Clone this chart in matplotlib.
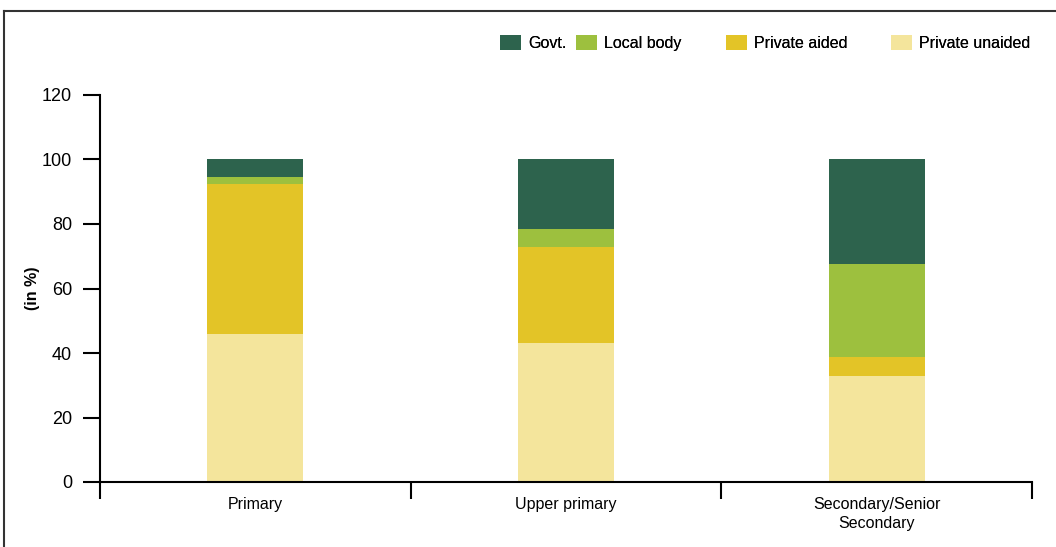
import matplotlib.pyplot as plt
from matplotlib.lines import Line2D
import numpy as np

plt.rcParams['font.family'] = ['Liberation Sans Narrow', 'Liberation Sans', 'DejaVu Sans']

categories = ["Primary", "Upper primary", "Secondary/Senior\nSecondary"]
series = ["Private unaided", "Private aided", "Local body", "Govt."]
private_unaided = [45.9, 43.1, 32.9]
private_aided = [46.6, 29.8, 5.9]
local_body = [2.1, 5.5, 28.8]
govt = [5.4, 21.6, 32.4]
colors = {"Govt.": "#2d634d", "Local body": "#9dc03e",
          "Private aided": "#e3c427", "Private unaided": "#f4e59c"}

values = {"Private unaided": private_unaided, "Private aided": private_aided,
          "Local body": local_body, "Govt.": govt}

fig = plt.figure(figsize=(10.56, 5.47), dpi=100)
ax = fig.add_axes([100/1056, 65/547, 932/1056, 387/547])

x = np.arange(len(categories))
bottom = np.zeros(len(categories))
bars = {}
for name in series:
    bars[name] = ax.bar(x, values[name], width=0.31, bottom=bottom,
                        color=colors[name], label=name, zorder=2)
    bottom += np.array(values[name])

ax.set_xlim(-0.5, 2.5)
ax.set_ylim(0, 120)
ax.set_yticks(range(0, 121, 20))
ax.set_xticks(x)
ax.set_xticklabels(categories, fontsize=11.5, linespacing=1.35)
ax.set_xticks([-0.5, 0.5, 1.5, 2.5], minor=True)
ax.tick_params(axis='x', which='major', length=0, pad=11)
ax.tick_params(axis='x', which='minor', length=12, width=1.5, direction='out')
ax.tick_params(axis='y', length=12, width=1.5, labelsize=13, pad=8)
for s in ['top', 'right']:
    ax.spines[s].set_visible(False)
for s in ['left', 'bottom']:
    ax.spines[s].set_linewidth(1.5)
ax.set_ylabel("(in %)", fontsize=11.5, fontweight='bold')
ax.yaxis.set_label_coords((40 - 100) / 932, 0.5)

# legend entries placed one by one, as in the reference
order = ["Govt.", "Local body", "Private aided", "Private unaided"]
box_x = [500, 576, 726, 891]
for name, bx in zip(order, box_x):
    leg = fig.legend([bars[name]], [name], loc='center left',
                     bbox_to_anchor=(bx / 1056, 1 - 43 / 547), frameon=False,
                     fontsize=11.5, handlelength=1.3, handleheight=1.1,
                     handletextpad=0.45, borderaxespad=0, borderpad=0)
    fig.add_artist(leg)

fig.add_artist(Line2D([4/1056, 1], [1 - 11/547, 1 - 11/547], color='#333333', lw=1.5))
fig.add_artist(Line2D([4/1056, 4/1056], [0, 1 - 11/547], color='#333333', lw=1.5))

fig.savefig("out.png", dpi=100)
